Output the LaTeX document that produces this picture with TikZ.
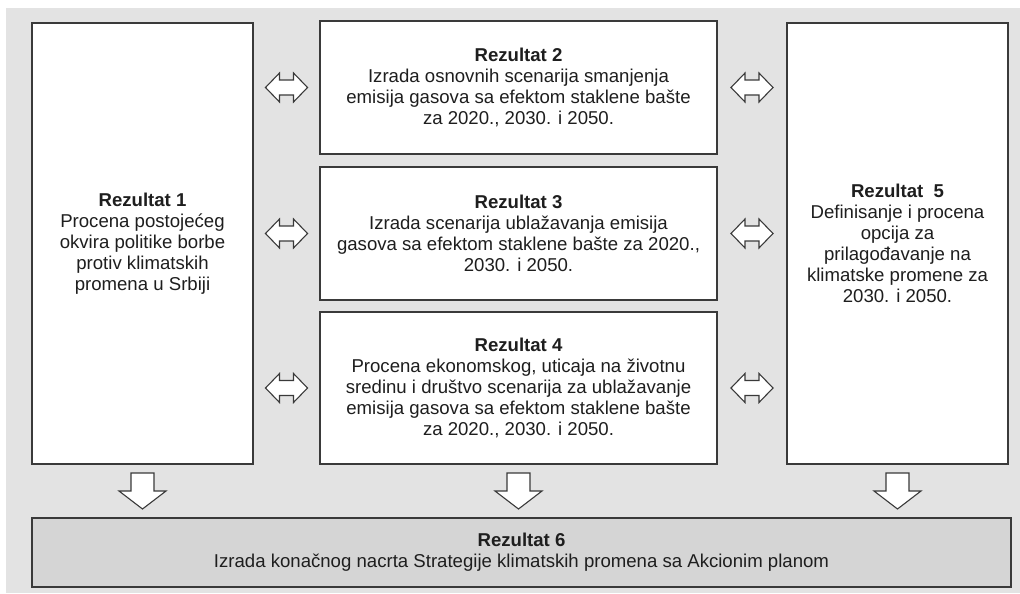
\documentclass[tikz,border=0pt]{standalone}
\usepackage{fontspec}
\setmainfont{Liberation Sans}
\usetikzlibrary{calc}
\definecolor{bg}{HTML}{E3E3E3}
\definecolor{bot}{HTML}{D5D5D5}
\definecolor{edge}{HTML}{3A3A3A}
\definecolor{txt}{HTML}{1E1E1E}
\begin{document}
\begin{tikzpicture}[x=1pt,y=-1pt,
  box/.style={draw=edge,line width=1.3pt,fill=white,inner sep=0pt,align=center,
    text=txt,font=\fontsize{18.6}{21}\selectfont},
  arrowshape/.style={draw=edge,line width=1.1pt,fill=white,line join=miter},
  dblarrow/.pic={\path[arrowshape] (-21,0) -- (-7,-14.5) -- (-7,-7.5) -- (7,-7.5) -- (7,-14.5)
      -- (21,0) -- (7,14.5) -- (7,7.5) -- (-7,7.5) -- (-7,14.5) -- cycle;},
  downarrow/.pic={\path[arrowshape] (-11.5,-18) -- (11.5,-18) -- (11.5,0) -- (23.5,0)
      -- (0,18) -- (-23.5,0) -- (-11.5,0) -- cycle;}]
\useasboundingbox (0,0) rectangle (1020,594);
\fill[bg] (6,8) rectangle (1020,593);
% boxes
\node[box,minimum width=221pt,minimum height=441pt] (r1) at (142.5,243.5)
  {\textbf{Rezultat 1}\\Procena postojećeg\\okvira politike borbe\\protiv klimatskih\\promena u Srbiji};
\node[box,minimum width=397pt,minimum height=133pt] (r2) at (518.5,87.5)
  {\textbf{Rezultat 2}\\Izrada osnovnih scenarija smanjenja\\emisija gasova sa efektom staklene bašte\\za 2020., 2030. i  2050.};
\node[box,minimum width=397pt,minimum height=133pt] (r3) at (518.5,233.5)
  {\textbf{Rezultat 3}\\Izrada scenarija ublažavanja emisija\\gasova sa efektom staklene bašte za 2020.,\\2030. i  2050.};
\node[box,minimum width=397pt,minimum height=152pt] (r4) at (518.5,388)
  {\textbf{Rezultat 4}\\Procena ekonomskog, uticaja na životnu\\sredinu i društvo scenarija za ublažavanje\\emisija gasova sa efektom staklene bašte\\za 2020., 2030. i 2050.};
\node[box,minimum width=221pt,minimum height=441pt] (r5) at (897.5,243.5)
  {\textbf{Rezultat\ \ 5}\\Definisanje i procena\\opcija za\\prilagođavanje na\\klimatske promene za\\2030. i  2050.};
\node[box,fill=bot,minimum width=979pt,minimum height=69pt] (r6) at (521.5,552.5)
  {\textbf{Rezultat 6}\\Izrada konačnog nacrta Strategije klimatskih promena sa Akcionim planom};
% double arrows (connectors between boxes)
\coordinate (a12) at ($(r1.east |- r2.center)!0.5!(r2.west)$);
\coordinate (a13) at ($(r1.east |- r3.center)!0.5!(r3.west)$);
\coordinate (a14) at ($(r1.east |- r4.center)!0.5!(r4.west)$);
\coordinate (a25) at ($(r2.east)!0.5!(r5.west |- r2.center)$);
\coordinate (a35) at ($(r3.east)!0.5!(r5.west |- r3.center)$);
\coordinate (a45) at ($(r4.east)!0.5!(r5.west |- r4.center)$);
\foreach \c in {a12,a13,a14,a25,a35,a45} \pic at (\c) {dblarrow};
% down arrows into the final box
\coordinate (d1) at ($(r1.south)!0.5!(r1.south |- r6.north)$);
\coordinate (d4) at ($(r4.south)!0.5!(r4.south |- r6.north)$);
\coordinate (d5) at ($(r5.south)!0.5!(r5.south |- r6.north)$);
\foreach \c in {d1,d4,d5} \pic at (\c) {downarrow};
\end{tikzpicture}
\end{document}
